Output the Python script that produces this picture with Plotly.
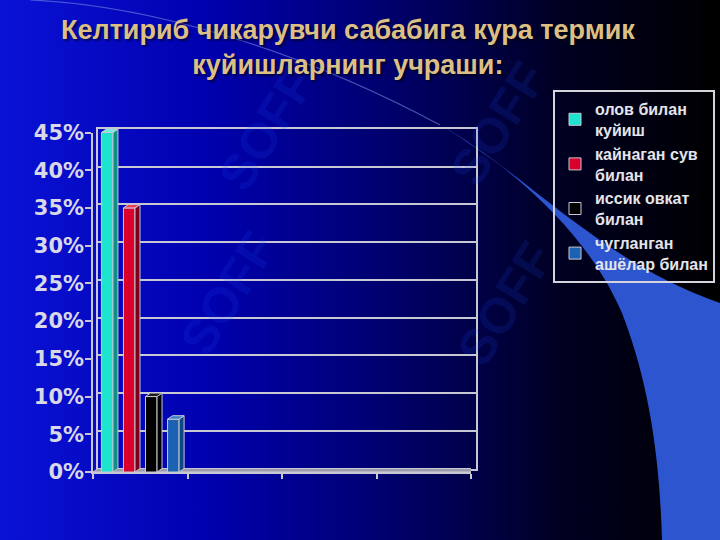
import base64
import plotly.graph_objects as go

# ---------------- data ----------------
title_text = "Келтириб чикарувчи сабабига кура термик<br>куйишларнинг учраши:"
series_names = ["олов билан<br>куйиш", "кайнаган сув<br>билан",
                "иссик овкат<br>билан", "чугланган<br>ашёлар билан"]
series_values = [45, 35, 10, 7]          # percent, first category only
category_count = 4                        # category slots on the x axis
front_colors = ["#1de3cf", "#d9002c", "#000000", "#1b63b2"]
side_colors = ["#0f8f86", "#7c0019", "#000000", "#0e4784"]
top_colors = ["#6ff0e2", "#e8405a", "#1a1a1a", "#3a80c8"]
y_max = 0.45
y_step = 0.05
watermark_text = "SOFF"

# ---------------- geometry ----------------
W, H = 720, 540
L, R, T, B = 93, 244, 120, 68
PW, PH = W - L - R, H - T - B            # plot area 383 x 352
DXP, DYP = 5, 3.5                         # 3D depth in px
front_h = 339.5                           # px for 0..45% on the front axis
x_range = [-0.5, category_count - 0.5]
ux = (x_range[1] - x_range[0]) / (PW - DXP)   # units per px (x)
uy = y_max / front_h                           # units per px (y)
DXU, DYU = DXP * ux, DYP * uy

group_width = 0.933
slot = group_width / len(series_values)
bar_w = 0.122

fig = go.Figure()

# dummy traces so the wall and front-axis subplots are drawn
fig.add_trace(go.Scatter(x=[None], y=[None], xaxis="x", yaxis="y",
                         showlegend=False, hoverinfo="skip"))
fig.add_trace(go.Scatter(x=[None], y=[None], xaxis="x2", yaxis="y2",
                         showlegend=False, hoverinfo="skip"))

edge = "#c8c8d4"
for i, (name, v) in enumerate(zip(series_names, series_values)):
    val = v / 100.0
    c = -group_width / 2 + slot * (i + 0.5)
    xl, xr = c - bar_w / 2, c + bar_w / 2
    fig.add_trace(go.Bar(
        x=[0], y=[val], width=[bar_w], offset=[xl], name=name,
        marker=dict(color=front_colors[i], line=dict(color=edge, width=1)),
        xaxis="x3", yaxis="y3", hoverinfo="skip"))
    # side face
    fig.add_trace(go.Scatter(
        x=[xr, xr, xr + DXU, xr + DXU, xr], y=[0, val, val + DYU, DYU, 0],
        fill="toself", fillcolor=side_colors[i], mode="lines",
        line=dict(color=edge, width=1), showlegend=False, hoverinfo="skip",
        xaxis="x3", yaxis="y3"))
    # top face
    fig.add_trace(go.Scatter(
        x=[xl, xr, xr + DXU, xl + DXU, xl], y=[val, val, val + DYU, val + DYU, val],
        fill="toself", fillcolor=top_colors[i], mode="lines",
        line=dict(color=edge, width=1), showlegend=False, hoverinfo="skip",
        xaxis="x3", yaxis="y3"))

# floor of the 3D chart
x0f, x1f = x_range
fig.add_shape(type="path", xref="x3", yref="y3", layer="below",
              path=f"M{x0f},0 L{x1f},0 L{x1f + DXU},{DYU} L{x0f + DXU},{DYU} Z",
              fillcolor="#9c9cae", line=dict(color=edge, width=1))

# ---------------- background ----------------
svg = f"""<svg xmlns='http://www.w3.org/2000/svg' width='{W}' height='{H}' viewBox='0 0 {W} {H}'>
<defs><linearGradient id='g' x1='0' y1='0' x2='1' y2='0'>
<stop offset='0' stop-color='#0a12d6'/><stop offset='0.3' stop-color='#0000ac'/>
<stop offset='0.55' stop-color='#00006a'/><stop offset='0.78' stop-color='#000022'/>
<stop offset='1' stop-color='#000000'/></linearGradient></defs>
<rect width='{W}' height='{H}' fill='url(#g)'/>
<path d='M440,125 C520,168 600,262 720,303 L720,540 L662,540 C660,470 652,390 622,313 C600,262 560,212 500,165 C475,147 456,134 440,125 Z' fill='#2d55d0'/>
<path d='M30,0 C150,5 300,50 440,125' stroke='#7f96e0' stroke-opacity='0.55' fill='none' stroke-width='1.2'/>
</svg>"""
src = "data:image/svg+xml;base64," + base64.b64encode(svg.encode("utf-8")).decode("ascii")
fig.add_layout_image(dict(source=src, xref="paper", yref="paper",
                          x=-L / PW, y=1 + T / PH, sizex=W / PW, sizey=H / PH,
                          xanchor="left", yanchor="top", sizing="stretch", layer="below"))

# faint watermarks
for (px, py) in [(205, 55), (560, 50), (228, 368), (567, 378)]:
    fig.add_annotation(text=watermark_text, xref="paper", yref="paper",
                       x=(px - L) / PW, y=(H - B - py) / PH, showarrow=False,
                       textangle=-58,
                       font=dict(family="Liberation Sans", size=50, weight="bold",
                                 color="rgba(30,80,255,0.14)"))

# title
fig.add_annotation(text=title_text, xref="paper", yref="paper",
                   x=(348 - L) / PW, y=(H - B - 13) / PH, xanchor="center", yanchor="top",
                   showarrow=False, align="center",
                   font=dict(family="Liberation Sans", size=27, weight="bold",
                             color="#dcbf84", shadow="2px 2px 2px rgba(0,0,0,0.55)"))

# ---------------- axes ----------------
wall_x_dom = [DXP / PW, 1]
wall_y_dom = [DYP / PH, (DYP + front_h) / PH]
front_x_dom = [0, (PW - DXP) / PW]
front_y_dom = [0, front_h / PH]

tick_vals = [y_step * k for k in range(int(round(y_max / y_step)) + 1)]

fig.update_layout(
    width=W, height=H, margin=dict(l=L, r=R, t=T, b=B, autoexpand=False),
    paper_bgcolor="#000080", plot_bgcolor="rgba(0,0,0,0)",
    barmode="overlay", showlegend=True,
    legend=dict(x=(553 - L) / PW, y=(H - B - 90) / PH, xanchor="left", yanchor="top",
                bgcolor="rgba(0,0,0,0)", bordercolor="#d4d4dc", borderwidth=2,
                font=dict(family="Liberation Sans", size=16, weight="bold", color="#e4e4ea"),
                traceorder="normal", itemclick=False),
    # wall
    xaxis=dict(domain=wall_x_dom, range=x_range, anchor="y", showgrid=False,
               zeroline=False, showticklabels=False, ticks="", showline=True,
               mirror=True, linecolor=edge, linewidth=1.5, fixedrange=True),
    yaxis=dict(domain=wall_y_dom, range=[0, y_max], anchor="x", tickvals=tick_vals,
               showgrid=True, gridcolor=edge, gridwidth=1.5, zeroline=False,
               showticklabels=False, ticks="", showline=True, mirror=True,
               linecolor=edge, linewidth=1.5, fixedrange=True),
    # front axes
    xaxis2=dict(domain=front_x_dom, range=x_range, anchor="y2",
                tickvals=[x_range[0] + k for k in range(category_count + 1)],
                ticks="outside", ticklen=5, tickcolor=edge, tickwidth=1.5,
                showticklabels=False, showgrid=False, zeroline=False,
                showline=True, linecolor=edge, linewidth=1.5, fixedrange=True),
    yaxis2=dict(domain=front_y_dom, range=[0, y_max], anchor="x2", tickvals=tick_vals,
                tickformat=".0%", ticks="outside", ticklen=6, tickcolor=edge,
                tickwidth=1.5, showgrid=False, zeroline=False, showline=True,
                linecolor=edge, linewidth=1.5, fixedrange=True, ticklabelstandoff=-3,
                tickfont=dict(family="DejaVu Sans", size=21, weight="bold",
                              color="#d8d8e6")),
    # bars
    xaxis3=dict(domain=front_x_dom, range=x_range, anchor="y3", visible=False,
                fixedrange=True),
    yaxis3=dict(domain=[0, 1], range=[0, y_max * PH / front_h], anchor="x3",
                visible=False, fixedrange=True),
)

fig.write_html("out.html")
